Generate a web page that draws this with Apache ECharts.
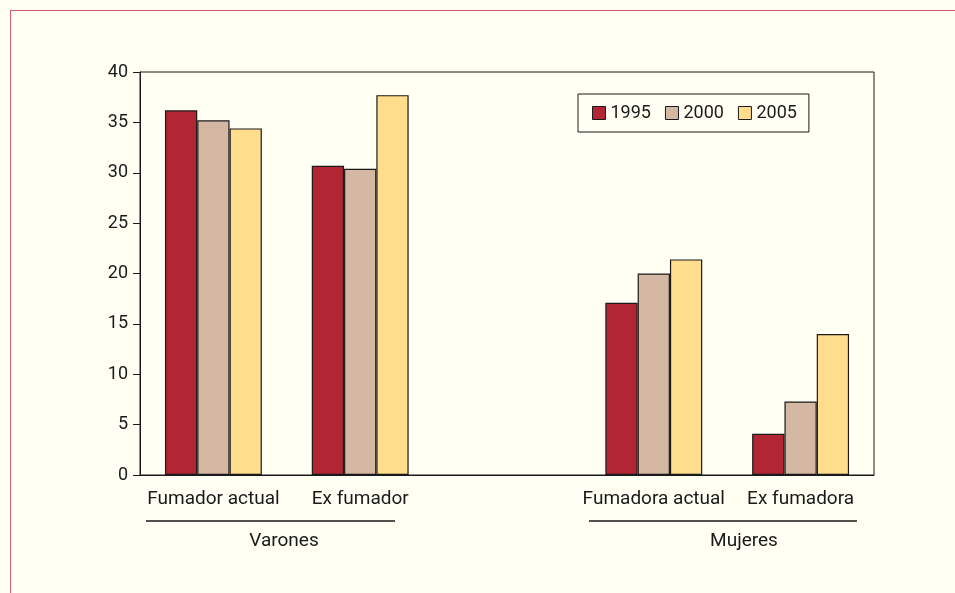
<!DOCTYPE html>
<html>
<head>
<meta charset="utf-8">
<script src="https://cdn.jsdelivr.net/npm/echarts@6/dist/echarts.min.js"></script>
<style>
	html, body { margin: 0; padding: 0; background: #fffff3; overflow: hidden; }
	#frame { position: absolute; left: 10px; top: 10px; width: 2000px; height: 2000px;
		border-left: 1px solid #d65a6a; border-top: 1px solid #d65a6a; }
	#chart { position: absolute; left: 0; top: 0; width: 955px; height: 593px; }
</style>
</head>
<body>
<div id="frame"></div>
<div id="chart"></div>
<script>
var categories = ['Fumador actual', 'Ex fumador', '', 'Fumadora actual', 'Ex fumadora'];
var years = ['1995', '2000', '2005'];
var values1995 = [36.2, 30.7, '-', 17.1, 4.1];
var values2000 = [35.2, 30.4, '-', 20.0, 7.3];
var values2005 = [34.4, 37.7, '-', 21.4, 14.0];
var yTicks = [0, 5, 10, 15, 20, 25, 30, 35, 40];

var colors = ['#b22533', '#d5b8a3', '#ffdd8c'];
var font = 'Roboto';

var myChart = echarts.init(document.getElementById('chart'));

function barSeries(name, data, color){
	return {
		name: name,
		type: 'bar',
		data: data,
		barGap: '0%',
		barCategoryGap: '34%',
		itemStyle: { color: color, borderColor: '#1a1a1a', borderWidth: 1.2 }
	};
}

var option = {
	animation: false,
	textStyle: { fontFamily: font, color: '#1a1a1a' },
	grid: {
		left: 140, right: 81, top: 72, bottom: 118,
		show: true, borderColor: '#1a1a1a', borderWidth: 1,
		backgroundColor: 'transparent'
	},
	legend: {
		data: years,
		left: 578, top: 94,
		itemWidth: 13, itemHeight: 13, itemGap: 14,
		padding: [10, 12, 10, 14],
		borderColor: '#1a1a1a', borderWidth: 1,
		icon: 'rect',
		itemStyle: { borderColor: '#1a1a1a', borderWidth: 1 },
		textStyle: { fontFamily: font, fontSize: 18, color: '#1a1a1a' }
	},
	xAxis: {
		type: 'category',
		data: categories,
		axisLine: { lineStyle: { color: '#1a1a1a', width: 1 } },
		axisTick: { length: 6, lineStyle: { color: '#1a1a1a' } },
		axisLabel: { fontFamily: font, fontSize: 19, color: '#1a1a1a', margin: 15, interval: 0 }
	},
	yAxis: {
		type: 'value',
		min: yTicks[0], max: yTicks[yTicks.length - 1], interval: 5,
		axisLine: { show: true, lineStyle: { color: '#1a1a1a', width: 1 } },
		axisTick: { show: true, length: 7, lineStyle: { color: '#1a1a1a' } },
		axisLabel: { fontFamily: font, fontSize: 18, color: '#1a1a1a', margin: 12 },
		splitLine: { show: false }
	},
	series: [
		barSeries(years[0], values1995, colors[0]),
		barSeries(years[1], values2000, colors[1]),
		barSeries(years[2], values2005, colors[2])
	],
	graphic: [
		{ type: 'line', shape: { x1: 146, y1: 521, x2: 395, y2: 521 }, style: { stroke: '#1a1a1a', lineWidth: 1.3 } },
		{ type: 'line', shape: { x1: 589, y1: 521, x2: 857, y2: 521 }, style: { stroke: '#1a1a1a', lineWidth: 1.3 } },
		{ type: 'text', x: 284, y: 541, style: { text: 'Varones', font: '19px Roboto', fill: '#1a1a1a', textAlign: 'center', textVerticalAlign: 'middle' } },
		{ type: 'text', x: 744, y: 541, style: { text: 'Mujeres', font: '19px Roboto', fill: '#1a1a1a', textAlign: 'center', textVerticalAlign: 'middle' } }
	]
};

myChart.setOption(option);
</script>
</body>
</html>
